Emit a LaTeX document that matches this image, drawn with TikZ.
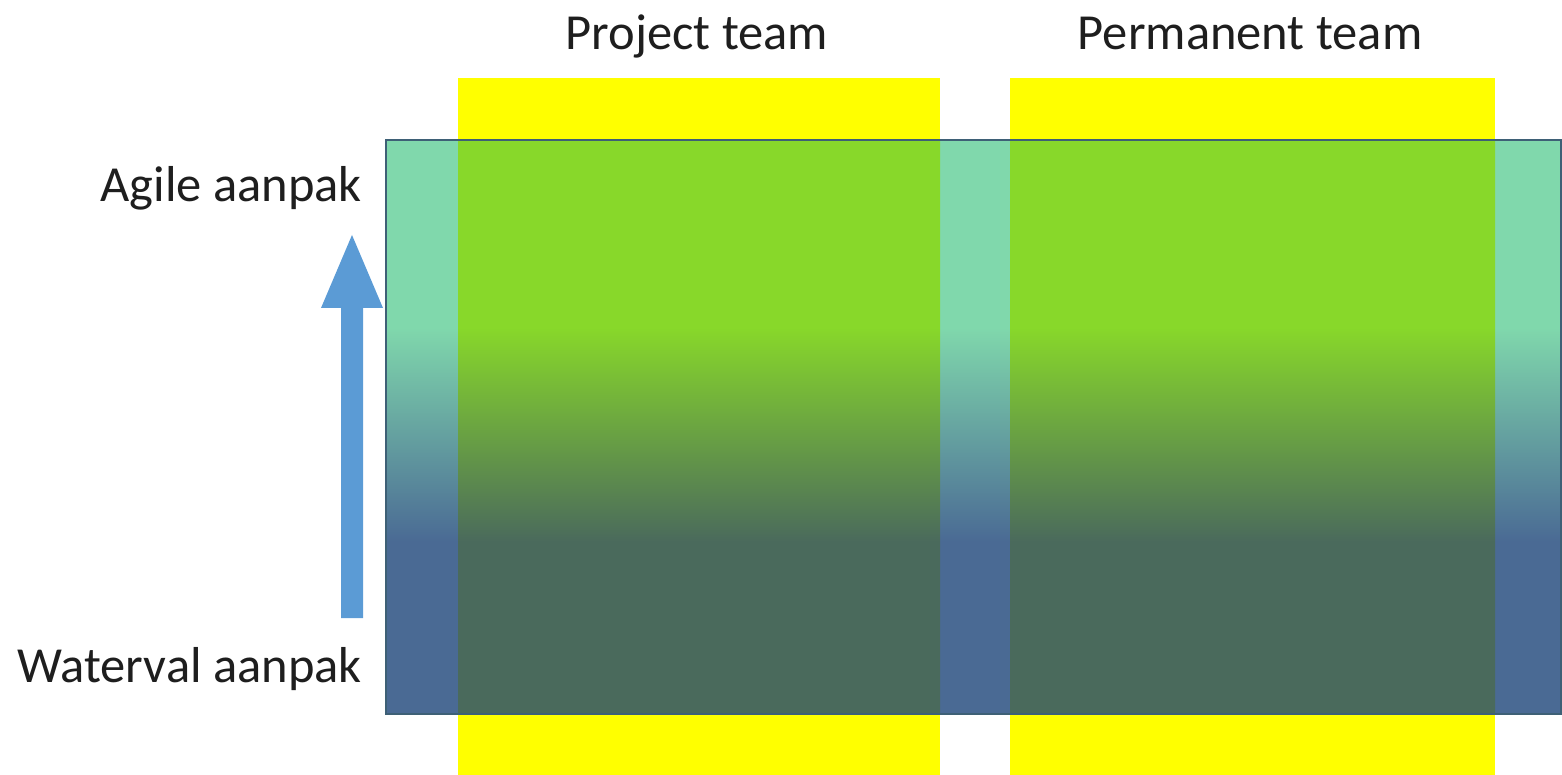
\documentclass[tikz,border=0pt]{standalone}
\usepackage{fontspec}
\setmainfont{Carlito}
\definecolor{tealtop}{RGB}{128,216,172}
\definecolor{tealbot}{RGB}{74,106,148}
\definecolor{greentop}{RGB}{136,216,42}
\definecolor{greenbot}{RGB}{74,106,92}
\definecolor{colyellow}{RGB}{255,255,0}
\definecolor{arrowblue}{RGB}{91,155,213}
\definecolor{framecol}{RGB}{62,96,118}
\definecolor{txt}{RGB}{30,30,30}
\pgfdeclareverticalshading{outsideshade}{100bp}{color(0bp)=(tealbot); color(40bp)=(tealbot); color(58.7bp)=(tealtop); color(100bp)=(tealtop)}
\pgfdeclareverticalshading{insideshade}{100bp}{color(0bp)=(greenbot); color(40bp)=(greenbot); color(58.7bp)=(greentop); color(100bp)=(greentop)}
\tikzset{
  label/.style={font=\fontsize{50.5}{56}\selectfont, text=txt, inner sep=0pt},
  column/.style={fill=colyellow, draw=none},
}
\begin{document}
\begin{tikzpicture}[x=1pt,y=-1pt]
\useasboundingbox (0,0) rectangle (1562,775);
% yellow columns
\fill[column] (458,78) rectangle (940,775);
\fill[column] (1010,78) rectangle (1495,775);
% big shaded band
\shade[shading=outsideshade] (386,140) rectangle (1561,714);
\shade[shading=insideshade] (458,140) rectangle (940,714);
\shade[shading=insideshade] (1010,140) rectangle (1495,714);
\draw[framecol, line width=1.5pt] (386,140) rectangle (1561,714);
% arrow
\fill[arrowblue] (341,618) -- (341,308) -- (321,308) -- (352,235) -- (383,308) -- (363,308) -- (363,618) -- cycle;
% labels
\node[label, anchor=base] (pt) at (697,50) {Project team};
\node[label, anchor=base] (pm) at (1250,50) {Permanent team};
\node[label, anchor=base east] (ag) at (362,202) {Agile aanpak};
\node[label, anchor=base east] (wv) at (362,682) {Waterval aanpak};
\end{tikzpicture}
\end{document}
